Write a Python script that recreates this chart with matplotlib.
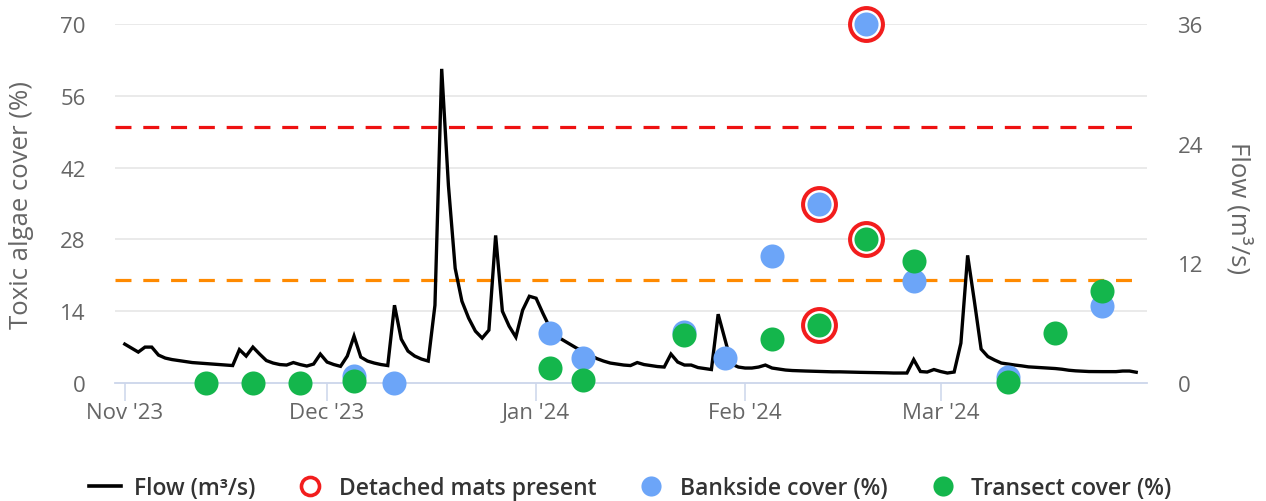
import matplotlib
matplotlib.use("Agg")
import matplotlib.pyplot as plt
import matplotlib.dates as mdates
from matplotlib.lines import Line2D
import numpy as np
import pandas as pd

plt.rcParams['font.family'] = ['Open Sans', 'DejaVu Sans']

# daily flow (m3/s) from 1 Nov 2023
flow_start = "2023-11-01"
flow = [3.9, 3.5, 3.1, 3.6, 3.6, 2.8, 2.5, 2.35, 2.25, 2.15,
        2.05, 2.0, 1.95, 1.9, 1.85, 1.8, 1.75, 3.35, 2.7, 3.6,
        2.9, 2.25, 2.0, 1.85, 1.8, 2.05, 1.85, 1.7, 1.9, 2.9,
        2.1, 1.85, 1.67, 2.7, 4.7, 2.6, 2.2, 2.0, 1.85, 1.75,
        7.8, 4.4, 3.2, 2.7, 2.4, 2.2, 7.8, 31.5, 19.8, 11.5,
        8.2, 6.5, 5.2, 4.5, 5.3, 14.8, 7.2, 5.7, 4.6, 7.3,
        8.7, 8.5, 7.0, 5.6, 4.7, 4.3, 3.9, 3.5, 3.2, 2.8,
        2.45, 2.2, 2.0, 1.9, 1.8, 1.75, 2.05, 1.85, 1.75, 1.65,
        1.6, 2.9, 2.1, 1.8, 1.8, 1.55, 1.45, 1.35, 6.9, 4.4,
        1.9, 1.6, 1.5, 1.5, 1.6, 1.8, 1.5, 1.4, 1.3, 1.25,
        1.22, 1.2, 1.18, 1.15, 1.15, 1.12, 1.12, 1.1, 1.08, 1.07,
        1.06, 1.05, 1.03, 1.02, 1.0, 1.0, 1.0, 2.35, 1.15, 1.1,
        1.35, 1.15, 1.0, 1.1, 4.0, 12.8, 8.2, 3.4, 2.65, 2.3,
        2.0, 1.9, 1.8, 1.72, 1.62, 1.58, 1.55, 1.5, 1.45, 1.38,
        1.28, 1.22, 1.18, 1.15, 1.14, 1.14, 1.14, 1.14, 1.2, 1.2,
        1.08]

# survey visits
visit_dates = ["2023-11-13", "2023-11-20", "2023-11-27", "2023-12-05", "2023-12-11",
               "2024-01-03", "2024-01-08", "2024-01-23", "2024-01-29", "2024-02-05",
               "2024-02-12", "2024-02-19", "2024-02-26", "2024-03-11", "2024-03-18",
               "2024-03-25"]
bankside = [np.nan, np.nan, np.nan, 1.3, 0, 9.8, 4.8, 9.9, 4.8, 24.8,
            34.9, 70, 19.9, 1.1, np.nan, 15.1]
transect = [0, 0, 0, 0.3, np.nan, 2.9, 0.6, 9.3, np.nan, 8.6,
            11.3, 28, 23.7, 0.1, 9.7, 18.0]
detached = [False, False, False, False, False, False, False, False, False, False,
            True, True, False, False, False, False]

red_level = 50
orange_level = 20
cover_ticks = [0, 14, 28, 42, 56, 70]
flow_ticks = [0, 12, 24, 36]

blue = '#6ca5f8'
green = '#14b64c'
ring_red = '#f21d1d'
grey_txt = '#666666'
axis_col = '#ccd6eb'

days = pd.date_range(flow_start, periods=len(flow), freq='D')
vd = pd.to_datetime(visit_dates)
bankside = np.array(bankside)
transect = np.array(transect)
detached = np.array(detached)

fig = plt.figure(figsize=(12.66, 5.02), dpi=100)
ax = fig.add_axes([115/1266, 118/502, 1032/1266, 359/502])
ax2 = ax.twinx()
ax.set_zorder(ax2.get_zorder() + 1)
ax.patch.set_visible(False)

x0 = pd.Timestamp(flow_start) - pd.Timedelta(days=1.45)
x1 = pd.Timestamp(flow_start) + pd.Timedelta(days=151.6)
ax.set_xlim(x0, x1)
ax.set_ylim(0, 70)
ax2.set_ylim(0, 36)

# grid and threshold lines, drawn in cover units under the flow line
ytr = ax.get_yaxis_transform()
for v in cover_ticks[1:]:
    ax2.plot([0, 1], [v, v], transform=ytr, color='#e6e6e6', lw=1.2, zorder=0)
ax2.plot([0, 0.993], [red_level, red_level], transform=ytr, color='#ee1111',
         lw=2.3, dashes=(5, 3.7), zorder=1)
ax2.plot([0, 0.993], [orange_level, orange_level], transform=ytr, color='#ff8a00',
         lw=2.3, dashes=(5, 3.7), zorder=1)

ax2.plot(days, flow, color='black', lw=2.4, zorder=2, solid_joinstyle='miter')

# markers
det = detached
ax.scatter(vd[det], bankside[det], s=560, facecolor='white', edgecolor=ring_red,
           lw=2.9, zorder=3, clip_on=False)
ax.scatter(vd[det], transect[det], s=560, facecolor='white', edgecolor=ring_red,
           lw=2.9, zorder=3, clip_on=False)
ax.scatter(vd, bankside, s=300, color=blue, lw=0, zorder=4, clip_on=False)
ax.scatter(vd, transect, s=300, color=green, lw=0, zorder=5, clip_on=False)

# axes styling
for sp in ax.spines.values():
    sp.set_visible(False)
for sp in ax2.spines.values():
    sp.set_visible(False)
ax.spines['bottom'].set_visible(True)
ax.spines['bottom'].set_color(axis_col)
ax.spines['bottom'].set_linewidth(1.3)

ax.xaxis.set_major_locator(mdates.MonthLocator())
ax.xaxis.set_major_formatter(mdates.DateFormatter("%b '%y"))
ax.tick_params(axis='x', length=13, width=1.1, color=axis_col, labelsize=16,
               labelcolor=grey_txt, pad=1)
ax.set_yticks(cover_ticks)
ax.tick_params(axis='y', length=0, pad=21, labelsize=16, labelcolor=grey_txt)
ax2.set_yticks(flow_ticks)
ax2.tick_params(axis='y', length=0, pad=22, labelsize=16, labelcolor=grey_txt)
ax2.tick_params(axis='x', length=0)

fig.text(22/1266, 1 - 205/502, 'Toxic algae cover (%)', rotation=90, ha='center',
         va='center', fontsize=18.5, color=grey_txt)
fig.text(1239/1266, 1 - 208/502, 'Flow (m³/s)', rotation=270, ha='center',
         va='center', fontsize=18.5, color=grey_txt)

handles = [
    Line2D([], [], color='black', lw=2.6),
    Line2D([], [], ls='none', marker='o', ms=13, mfc='white', mec=ring_red, mew=2.6),
    Line2D([], [], ls='none', marker='o', ms=14.5, mfc=blue, mec='none'),
    Line2D([], [], ls='none', marker='o', ms=14.5, mfc=green, mec='none'),
]
labels = ['Flow (m³/s)', 'Detached mats present', 'Bankside cover (%)', 'Transect cover (%)']
leg = fig.legend(handles, labels, loc='center', bbox_to_anchor=(0.498, 0.026), ncol=4,
                 frameon=False, handlelength=1.4, handletextpad=0.55, columnspacing=1.7,
                 prop=dict(size=16.5, weight='semibold'))
for t in leg.get_texts():
    t.set_color('#333333')

fig.savefig('out.png', dpi=100)
